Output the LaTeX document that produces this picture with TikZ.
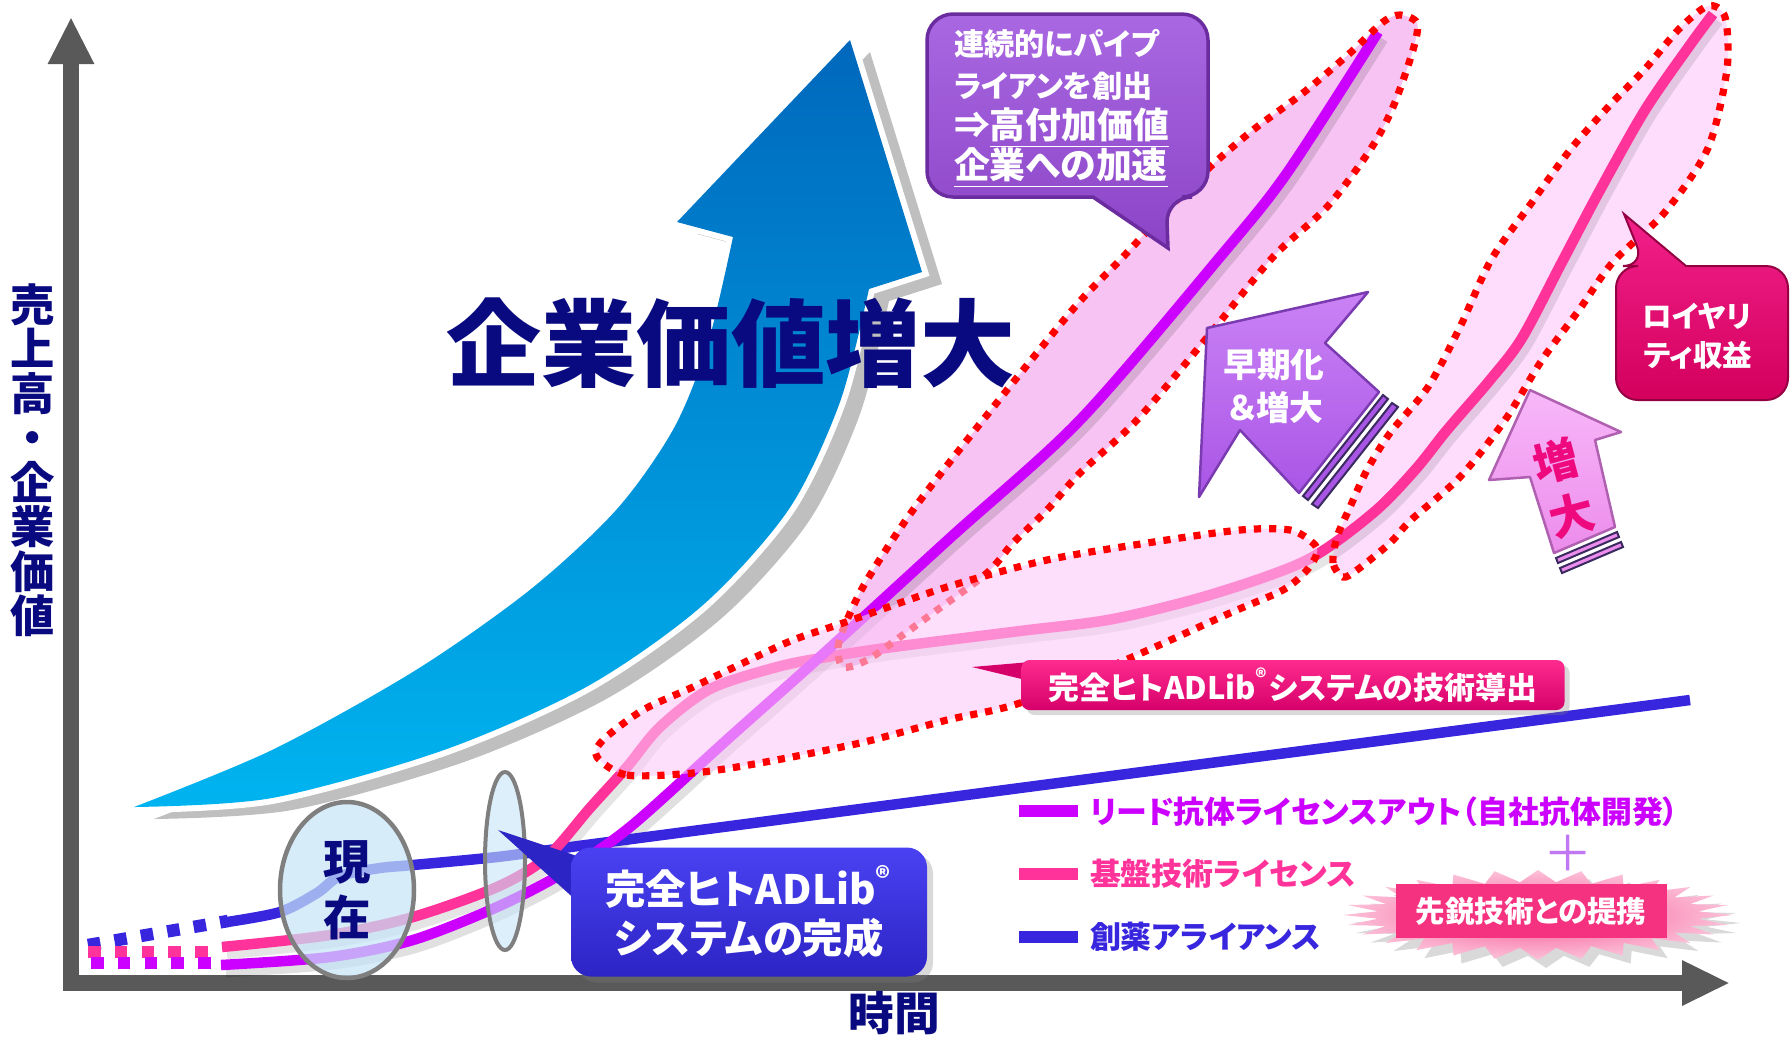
\documentclass[tikz,border=0pt]{standalone}
\usepackage{fontspec}
\setmainfont{Noto Sans CJK JP}[RawFeature=+palt]
\usetikzlibrary{arrows.meta,shapes.geometric,shadows}

\definecolor{axisgray}{HTML}{595959}
\definecolor{navy}{HTML}{0A0A80}
\definecolor{leadpurple}{HTML}{CC00FF}
\definecolor{basepink}{HTML}{FF3399}
\definecolor{allyblue}{HTML}{3826DE}
\definecolor{zonefill}{HTML}{F7C3F3}
\definecolor{zonelight}{HTML}{FDDDFB}
\definecolor{zonemid}{HTML}{FCC8F8}
\definecolor{calltop}{HTML}{A968E2}
\definecolor{callbot}{HTML}{8B44C6}
\definecolor{callrim}{HTML}{6A2C9E}
\definecolor{earlytop}{HTML}{CA82F5}
\definecolor{earlybot}{HTML}{A955E6}
\definecolor{earlyrim}{HTML}{7A3AB0}
\definecolor{raisetop}{HTML}{F8B8F8}
\definecolor{raisebot}{HTML}{EC8CEC}
\definecolor{raiserim}{HTML}{B060B0}
\definecolor{raisetext}{HTML}{EE0A7E}
\definecolor{royaltop}{HTML}{F2208A}
\definecolor{royalbot}{HTML}{D4005E}
\definecolor{bannertop}{HTML}{FF2B8E}
\definecolor{bannerbot}{HTML}{D6006A}
\definecolor{boxtop}{HTML}{4A42F2}
\definecolor{boxbot}{HTML}{2C24C4}
\definecolor{starcore}{HTML}{F5327F}
\definecolor{arrowtop}{HTML}{0068BC}
\definecolor{arrowbot}{HTML}{00B4F0}
\definecolor{lensfill}{HTML}{C6E4F7}
\definecolor{lensrim}{HTML}{7F7F7F}
\definecolor{plusviolet}{HTML}{C277F2}
\definecolor{striperim}{HTML}{3A2A60}

\newcommand{\jfont}[2]{\fontsize{#1}{#2}\selectfont\bfseries}

% rising swoosh arrow
\newcommand{\swoosh}[1]{%
  \path[#1] (134,807)
    -- plot[smooth] coordinates {(134,807) (272,750) (416,670) (531,589) (617,509) (674,428) (708,343) (733,237)}
    -- (677,222) -- (850,40) -- (922,272) -- (869,289)
    -- plot[smooth] coordinates {(869,289) (840,402) (789,509) (703,605) (588,686) (444,750) (272,798) (134,807)}
    -- cycle;}

% highlighted zones
\newcommand{\zonetop}[1]{%
  \path[#1] plot[smooth cycle] coordinates {(843,667) (838,647) (847,620) (867,580) (913,510) (983,420) (1074,308) (1123,257) (1167,210) (1210,167) (1253,130) (1303,93) (1350,53) (1383,22) (1400,15) (1417,23) (1413,50) (1393,107) (1370,150) (1327,207) (1273,257) (1205,340) (1137,420) (1080,473) (1047,510) (1013,543) (987,573) (933,613) (900,637) (867,660)};}
\newcommand{\zonemiddle}[1]{%
  \path[#1] plot[smooth cycle] coordinates {(597,757) (627,775) (693,773) (760,763) (860,743) (947,720) (1020,703) (1130,658) (1230,613) (1283,590) (1307,570) (1317,553) (1313,543) (1290,530) (1240,530) (1147,543) (1047,560) (947,587) (843,623) (793,640) (743,663) (693,687) (643,710) (603,740)};}
\newcommand{\zoneright}[1]{%
  \path[#1] plot[smooth cycle] coordinates {(1343,577) (1333,563) (1337,537) (1350,507) (1367,470) (1390,433) (1428,387) (1460,327) (1491,260) (1530,205) (1570,150) (1610,105) (1645,69) (1679,29) (1708,6) (1725,17) (1727,69) (1708,148) (1665,212) (1613,262) (1579,310) (1542,360) (1505,420) (1460,477) (1411,520) (1390,543) (1357,570)};}

% growth curves
\newcommand{\leadcurve}[1]{%
  \path[#1] plot[smooth] coordinates {(221,965) (330,957) (413,940) (497,907) (563,873) (630,827) (730,737) (822,655) (950,538) (1080,420) (1220,257) (1287,173) (1378,32)};}
\newcommand{\corecurve}[1]{%
  \path[#1] plot[smooth] coordinates {(222,947) (330,935) (413,917) (497,887) (547,857) (590,808) (627,767) (660,727) (710,689) (777,667) (827,657) (893,647) (1020,631) (1113,619) (1213,594) (1307,560) (1373,513) (1415,470) (1447,430) (1490,380) (1522,338) (1562,262) (1600,190) (1645,110) (1690,45) (1713,14)};}
\newcommand{\allycurve}[1]{%
  \path[#1] plot[smooth] coordinates {(227,922) (280,912) (317,893) (340,876) (380,868) (413,865) (497,857) (563,848)} -- (1690,700);}

\begin{document}
\begin{tikzpicture}[x=0.1mm,y=-0.1mm,
  axisline/.style={draw=axisgray, line width=1.6mm, line join=miter},
  curveln/.style={line width=1.05mm, line cap=butt},
  leaddash/.style={draw=leadpurple, line width=1.25mm, dash pattern=on 1.25mm off 1.43mm},
  coredash/.style={draw=basepink, line width=1.25mm, dash pattern=on 1.25mm off 1.43mm},
  allydash/.style={draw=allyblue, line width=1.25mm, dash pattern=on 1.25mm off 1.43mm},
  zoneline/.style={draw=red, line width=0.72mm, dash pattern=on 0.72mm off 0.8mm},
  txt/.style={inner sep=0pt, outer sep=0pt},
  keybar/.style={minimum width=5.9mm, minimum height=1.2mm, inner sep=0pt},
  keytext/.style={txt, anchor=west, font=\jfont{8.8pt}{10pt}},
  stripe/.style={draw=striperim, line width=0.2mm},
]
\useasboundingbox (0,0) rectangle (1791,1037);

% axes
\coordinate (O) at (71,983);
\coordinate (Ytip) at (71,17);
\coordinate (Xtip) at (1730,983);
\draw[axisline, {Triangle[length=4.7mm,width=4.3mm]}-{Triangle[length=4.8mm,width=4.2mm]}] (Ytip) -- (O) -- (Xtip);
\node[txt, text=navy, font=\jfont{12.6pt}{12.66pt}, align=center] (ylabel) at (33,460) {売\\上\\高\\・\\企\\業\\価\\値};
\node[txt, text=navy, font=\jfont{13pt}{15pt}] (xlabel) at (894,1013) {時間};

% rising arrow with its offset shadow
\swoosh{fill=black!25, shift={(20,12)}}
\swoosh{draw=white, line width=1.2mm, fill=white}
\swoosh{top color=arrowtop, bottom color=arrowbot}
\node[txt, text=navy, font=\jfont{27pt}{30pt}] (title) at (731,343) {企業価値増大};

% zones under the curves
\zonetop{fill=zonefill}
\zoneright{fill=zonelight}

% curve shadows
\leadcurve{draw=black, opacity=0.12, curveln, shift={(5,7)}}
\corecurve{draw=black, opacity=0.10, curveln, shift={(5,7)}}

% dashed past segments
\draw[allydash] (88,945) -- (228,921);
\draw[coredash] (88,952) -- (210,952);
\draw[leaddash] (91,963) -- (213,963);

% curves
\allycurve{draw=allyblue, curveln}
\corecurve{draw=basepink, curveln}
\leadcurve{draw=leadpurple, curveln}

% zone outlines and the translucent middle zone
\zonetop{zoneline}
\zonemiddle{fill=zonemid, fill opacity=0.6}
\zonemiddle{zoneline}
\zoneright{zoneline}

% present marker
\node[ellipse, draw=lensrim, line width=0.45mm, fill=lensfill, fill opacity=0.72, text opacity=1,
      minimum width=13.4mm, minimum height=17.6mm, inner sep=0pt, text=navy,
      font=\jfont{13.5pt}{16pt}, align=center] (now) at (347,890) {現\\在};
\node[ellipse, draw=lensrim, line width=0.4mm, fill=lensfill, fill opacity=0.6,
      minimum width=4mm, minimum height=17.8mm, inner sep=0pt] (lens) at (505,861) {};

% completion callout
\fill[boxbot] (580,857) -- (498,830) -- (578,902) -- cycle;
\node[rounded corners=2mm, top color=boxtop, bottom color=boxbot, minimum width=35.6mm, minimum height=12.9mm,
      inner sep=0pt, text=white, font=\jfont{11.5pt}{14.2pt}, align=center,
      drop shadow={opacity=0.3, shadow xshift=0.6mm, shadow yshift=-0.6mm}] (done) at (749,912)
      {完全ヒトADLib\textsuperscript{®}\\システムの完成};

% pipeline callout
\draw[draw=callrim, line width=0.35mm, top color=calltop, bottom color=callbot]
  (927,110) [rounded corners=2.6mm] -- (927,14) -- (1208,14) -- (1208,197) -- (1166,197)
  [sharp corners] -- (1168,248) -- (1093,197) [rounded corners=2.6mm] -- (927,197) -- cycle;
\node[txt, anchor=west, text=white, font=\jfont{8.6pt}{10pt}] (pipeA) at (954,44) {連続的にパイプ};
\node[txt, anchor=west, text=white, font=\jfont{8.6pt}{10pt}] (pipeB) at (954,86) {ライアンを創出};
\node[txt, anchor=west, text=white, font=\jfont{10.2pt}{12pt}] (pipeC) at (954,128) {⇒\underline{高付加価値}};
\node[txt, anchor=west, text=white, font=\jfont{10.2pt}{12pt}] (pipeD) at (954,168) {\underline{企業への加速}};

% earlier-and-larger arrow
\draw[draw=earlyrim, line width=0.25mm, top color=earlytop, bottom color=earlybot, line join=round]
  (1207,328) -- (1368,292) -- (1325,343) -- (1379,392) -- (1299,493) -- (1240,430) -- (1199,497) -- cycle;
\draw[stripe, fill=earlybot] (1383,395) -- (1388,399) -- (1308,500) -- (1303,496) -- cycle;
\draw[stripe, fill=earlybot] (1392,403) -- (1398,407) -- (1318,508) -- (1312,504) -- cycle;
\node[txt, text=white, font=\jfont{9.6pt}{11pt}] (earlyA) at (1274,365) {早期化};
\node[txt, text=white, font=\jfont{9.6pt}{11pt}] (earlyB) at (1276,408) {＆増大};

% larger arrow
\draw[draw=raiserim, line width=0.25mm, top color=raisetop, bottom color=raisebot, line join=round]
  (1530,390) -- (1621,432) -- (1595,440) -- (1615,527) -- (1554,553) -- (1530,477) -- (1489,480) -- cycle;
\draw[stripe, fill=raisebot] (1617,532) -- (1619,537) -- (1558,563) -- (1556,558) -- cycle;
\draw[stripe, fill=raisebot] (1621,542) -- (1623,547) -- (1562,573) -- (1560,568) -- cycle;
\node[txt, text=raisetext, font=\jfont{12.8pt}{14pt}, rotate=15] (raiseA) at (1556,461) {増};
\node[txt, text=raisetext, font=\jfont{12.8pt}{14pt}, rotate=15] (raiseB) at (1572,515) {大};

% royalty callout
\draw[draw=royalbot!70!black, line width=0.2mm, top color=royaltop, bottom color=royalbot]
  (1616,330) [rounded corners=2.2mm] -- (1616,266) -- (1645,266) [sharp corners] -- (1624,214) -- (1686,266)
  [rounded corners=2.2mm] -- (1788,266) -- (1788,400) -- (1616,400) -- cycle;
\node[txt, text=white, font=\jfont{8.4pt}{10pt}] (royalA) at (1697,316) {ロイヤリ};
\node[txt, text=white, font=\jfont{8.4pt}{10pt}] (royalB) at (1698,355) {ティ収益};

% technology transfer banner
\fill[bannerbot] (1030,662) -- (972,667) -- (1030,681) -- cycle;
\node[rounded corners=0.8mm, top color=bannertop, bottom color=bannerbot, minimum width=54.3mm, minimum height=5mm,
      inner sep=0pt, text=white, font=\jfont{8.8pt}{10pt},
      drop shadow={opacity=0.3, shadow xshift=0.5mm, shadow yshift=-0.5mm}] (derive) at (1293,685)
      {完全ヒトADLib\textsuperscript{®}システムの技術導出};

% legend
\node[keybar, fill=leadpurple] (keyA) at (1048,811) {};
\node[keytext, text=leadpurple] (keyAtext) at (1090,812) {リード抗体ライセンスアウト（自社抗体開発）};
\node[keybar, fill=basepink] (keyB) at (1048,874) {};
\node[keytext, text=basepink] (keyBtext) at (1090,874) {基盤技術ライセンス};
\node[keybar, fill=allyblue] (keyC) at (1048,937) {};
\node[keytext, text=allyblue] (keyCtext) at (1090,937) {創薬アライアンス};
\node[txt, text=plusviolet, font=\fontsize{14pt}{14pt}\selectfont] (plus) at (1568,853) {＋};

% alliance starburst
\path[inner color=starcore!85!white, outer color=starcore!30!white,
      drop shadow={opacity=0.3, shadow xshift=0.8mm, shadow yshift=-0.8mm}]
  plot[samples=57, domain=0:360, variable=\t]
  ({1538+(178+17*cos(28*\t))*cos(\t)}, {915+(39+6*cos(28*\t))*sin(\t)}) -- cycle;
\node[fill=starcore, minimum width=27.1mm, minimum height=5.4mm, inner sep=0pt, text=white,
      font=\jfont{8.4pt}{10pt}] (alliance) at (1531,911) {先鋭技術との提携};
\end{tikzpicture}
\end{document}
